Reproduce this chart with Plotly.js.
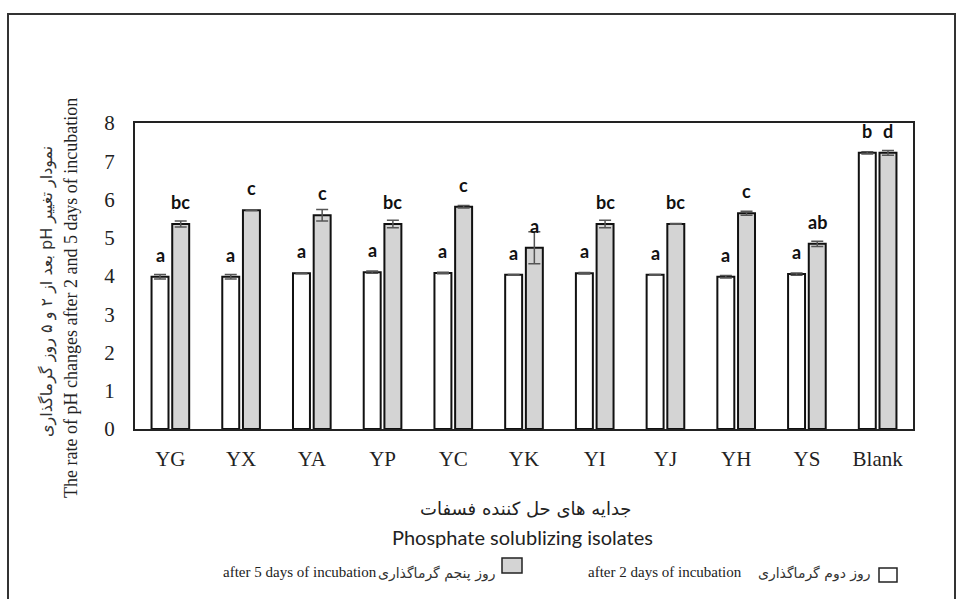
<!DOCTYPE html>
<html>
<head>
<meta charset="utf-8">
<script src="https://cdn.plot.ly/plotly-3.0.1.min.js"></script>
<style>html,body{margin:0;padding:0;background:#fff;}#chart{width:960px;height:599px;}</style>
</head>
<body>
<div id="chart"></div>
<script>
// ---- data ----
const categories = ['YG','YX','YA','YP','YC','YK','YI','YJ','YH','YS','Blank'];
const day2Values = [3.98, 3.98, 4.07, 4.10, 4.08, 4.03, 4.07, 4.03, 3.98, 4.05, 7.22];
const day2Errors = [0.06, 0.06, 0.01, 0.03, 0.02, 0.01, 0.02, 0.01, 0.03, 0.03, 0.03];
const day5Values = [5.36, 5.72, 5.59, 5.36, 5.81, 4.74, 5.36, 5.36, 5.64, 4.84, 7.22];
const day5Errors = [0.08, 0.01, 0.15, 0.10, 0.03, 0.42, 0.10, 0.01, 0.05, 0.07, 0.06];
const day2Letters = ['a','a','a','a','a','a','a','a','a','a','b'];
const day5Letters = ['bc','c','c','bc','c','a','bc','bc','c','ab','d'];
const yTickVals = [0,1,2,3,4,5,6,7,8];

// ---- layout geometry (pixels) ----
const W = 960, H = 599;
const L = 135, R = 913, T = 123, B = 429;
const px = x => (x - L) / (R - L);
const py = y => (B - y) / (B - T);

const serif = 'Liberation Serif, Times New Roman, serif';
const sans = 'Lato, Open Sans, sans-serif';
const fa = 'DejaVu Sans, sans-serif';
const rtl = s => '\u202B' + s + '\u202C';

const bargap = 0.415;
const slot = (R - L) / categories.length * (1 - bargap) / 2;

const traceDay2 = {
  type: 'bar', x: categories, y: day2Values, name: 'after 2 days of incubation',
  marker: {color: '#ffffff', line: {color: '#111111', width: 2}},
  error_y: {type: 'data', array: day2Errors, visible: true, color: '#555555', thickness: 1.5, width: 6},
  hoverinfo: 'x+y'
};
const traceDay5 = {
  type: 'bar', x: categories, y: day5Values, name: 'after 5 days of incubation',
  marker: {color: '#d4d4d4', line: {color: '#111111', width: 2}},
  error_y: {type: 'data', array: day5Errors, visible: true, color: '#555555', thickness: 1.5, width: 6},
  hoverinfo: 'x+y'
};

const annotations = [];
categories.forEach((c, i) => {
  annotations.push({x: c, y: day2Values[i], xref: 'x', yref: 'y', text: day2Letters[i], showarrow: false,
    xshift: -slot / 2, yshift: 22, yanchor: 'middle', font: {family: sans, size: 18, color: '#111', weight: 'bold'}});
  annotations.push({x: c, y: day5Values[i], xref: 'x', yref: 'y', text: day5Letters[i], showarrow: false,
    xshift: slot / 2, yshift: 22, yanchor: 'middle', font: {family: sans, size: 18, color: '#111', weight: 'bold'}});
});

// axis titles
annotations.push({xref: 'paper', yref: 'paper', x: px(71), y: py(298), text: 'The rate of pH changes after 2 and 5 days of incubation',
  textangle: -90, showarrow: false, xanchor: 'center', yanchor: 'middle', font: {family: serif, size: 18, color: '#222'}});
annotations.push({xref: 'paper', yref: 'paper', x: px(47), y: py(292), text: rtl('نمودار تغییر pH بعد از ۲ و ۵ روز گرماگذاری'),
  textangle: -90, showarrow: false, xanchor: 'center', yanchor: 'middle', font: {family: fa, size: 16, color: '#333'}});
annotations.push({xref: 'paper', yref: 'paper', x: px(525), y: py(508), text: 'جدایه های حل کننده فسفات',
  showarrow: false, xanchor: 'center', yanchor: 'middle', font: {family: fa, size: 18, color: '#222'}});
annotations.push({xref: 'paper', yref: 'paper', x: px(522), y: py(537), text: 'Phosphate solublizing isolates',
  showarrow: false, xanchor: 'center', yanchor: 'middle', font: {family: sans, size: 20, color: '#222'}});

// legend (RTL layout: box on the right of its label)
annotations.push({xref: 'paper', yref: 'paper', x: px(379), y: py(572), text: 'after 5 days of incubation',
  showarrow: false, xanchor: 'right', yanchor: 'middle', font: {family: serif, size: 15, color: '#222'}});
annotations.push({xref: 'paper', yref: 'paper', x: px(497), y: py(573), text: 'روز پنجم گرماگذاری',
  showarrow: false, xanchor: 'right', yanchor: 'middle', font: {family: fa, size: 14, color: '#333'}});
annotations.push({xref: 'paper', yref: 'paper', x: px(744), y: py(572), text: 'after 2 days of incubation',
  showarrow: false, xanchor: 'right', yanchor: 'middle', font: {family: serif, size: 15, color: '#222'}});
annotations.push({xref: 'paper', yref: 'paper', x: px(873), y: py(573), text: 'روز دوم گرماگذاری',
  showarrow: false, xanchor: 'right', yanchor: 'middle', font: {family: fa, size: 14, color: '#333'}});

const shapes = [
  // outer frame
  {type: 'rect', xref: 'paper', yref: 'paper', x0: px(8), x1: px(955), y0: py(640), y1: py(14),
   line: {color: '#333', width: 2}, fillcolor: 'rgba(0,0,0,0)', layer: 'below'},
  // legend boxes
  {type: 'rect', xref: 'paper', yref: 'paper', x0: px(502), x1: px(522), y0: py(573), y1: py(558),
   line: {color: '#222', width: 1.5}, fillcolor: '#d4d4d4'},
  {type: 'rect', xref: 'paper', yref: 'paper', x0: px(879), x1: px(897), y0: py(582), y1: py(568),
   line: {color: '#222', width: 1.5}, fillcolor: '#ffffff'}
];

const layout = {
  width: W, height: H,
  margin: {l: L, r: W - R, t: T, b: H - B, pad: 0},
  paper_bgcolor: '#ffffff', plot_bgcolor: '#ffffff',
  barmode: 'group', bargap: bargap, bargroupgap: 0.18,
  showlegend: false,
  xaxis: {
    type: 'category', showgrid: false, zeroline: false, ticks: '',
    showline: true, linecolor: '#222', linewidth: 2, mirror: true,
    tickfont: {family: serif, size: 21, color: '#222'}, ticklabelstandoff: 10
  },
  yaxis: {
    range: [0, 8], tickvals: yTickVals, ticktext: yTickVals.map(String),
    showgrid: false, zeroline: false, ticks: '',
    showline: true, linecolor: '#222', linewidth: 2, mirror: true,
    tickfont: {family: serif, size: 21, color: '#222'}, ticklabelstandoff: 14
  },
  annotations: annotations,
  shapes: shapes
};

Plotly.newPlot('chart', [traceDay2, traceDay5], layout, {displayModeBar: false, staticPlot: true});
</script>
</body>
</html>
